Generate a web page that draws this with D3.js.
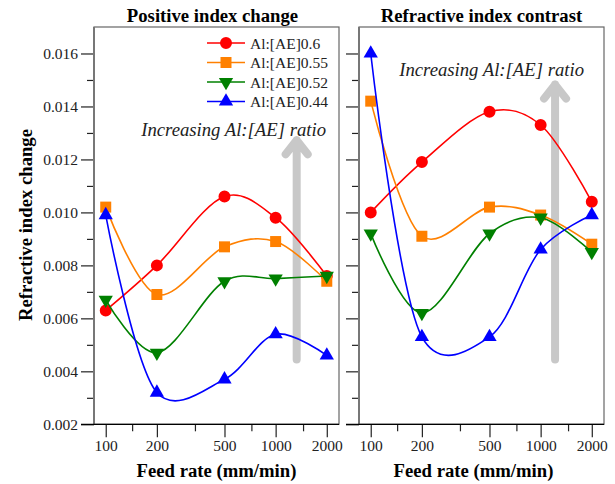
<!DOCTYPE html>
<html>
<head>
<meta charset="utf-8">
<script src="https://cdn.jsdelivr.net/npm/d3@7"></script>
<style>
body { margin: 0; background: #fff; }
</style>
</head>
<body>
<div id="canvas"></div>
<script>
// ----------------------------------------------------------
// DATA -----------------------------------------------------
// ----------------------------------------------------------
var feed_rates = [100, 200, 500, 1000, 2000];
var series_names = ["Al:[AE]0.6", "Al:[AE]0.55", "Al:[AE]0.52", "Al:[AE]0.44"];

// positive index change (left panel)
var positive_06 = [0.0063, 0.0080, 0.0106, 0.0098, 0.0076];
var positive_055 = [0.0102, 0.0069, 0.0087, 0.0089, 0.0074];
var positive_052 = [0.0067, 0.0047, 0.0074, 0.0075, 0.0076];
var positive_044 = [0.0099, 0.0032, 0.0037, 0.0054, 0.0046];

// refractive index contrast (right panel)
var contrast_06 = [0.0100, 0.0119, 0.0138, 0.0133, 0.0104];
var contrast_055 = [0.0142, 0.0091, 0.0102, 0.0099, 0.0088];
var contrast_052 = [0.0092, 0.0062, 0.0092, 0.0098, 0.0085];
var contrast_044 = [0.0160, 0.0053, 0.0053, 0.0086, 0.0099];

var y_major_ticks = [0.002, 0.004, 0.006, 0.008, 0.010, 0.012, 0.014, 0.016];
var y_minor_ticks = [0.003, 0.005, 0.007, 0.009, 0.011, 0.013, 0.015];
var x_major_ticks = [100, 200, 500, 1000, 2000];
var x_minor_ticks = [143, 335, 720, 1450];

// arrow annotations: [x, y_bottom, y_top]
var arrow_left = [1330, 0.00445, 0.0128];
var arrow_right = [1216, 0.00445, 0.0149];

// ----------------------------------------------------------
// STRUCTURE ------------------------------------------------
// ----------------------------------------------------------
var W = 615, H = 484;
var top_y = 27, bottom_y = 424.3;
var serif = "Liberation Serif";
var big_font = "18.7px";
var small_font = "15.5px";
var panels = [
  { left: 94, right: 339, title: "Positive index change", title_dx: -4, label_dx: 0, values: [positive_06, positive_055, positive_052, positive_044], arrow: arrow_left, labels: true, note_x: 326, note_y: 136, legend: true },
  { left: 359, right: 604, title: "Refractive index contrast", title_dx: 0, label_dx: -8, values: [contrast_06, contrast_055, contrast_052, contrast_044], arrow: arrow_right, labels: false, note_x: 584, note_y: 76, legend: false }
];

var colors = ["#ff0000", "#ff8000", "#008000", "#0000ff"];
var symbols = [
  d3.symbol().type(d3.symbolCircle).size(113),
  d3.symbol().type(d3.symbolSquare).size(121),
  d3.symbol().type(d3.symbolTriangle).size(88),
  d3.symbol().type(d3.symbolTriangle).size(88)
];
var rotations = [0, 0, 180, 0];

var svg = d3.select("#canvas").append("svg")
  .attr("width", W)
  .attr("height", H)
  .style("font-family", serif);

var yScale = d3.scaleLinear()
  .domain([0.002, 0.017])
  .range([bottom_y, top_y]);

panels.forEach(function (p) {
  var xScale = d3.scaleLog()
    .domain([85.3, 2360])
    .range([p.left, p.right]);

  var g = svg.append("g").attr("class", "panel");

  // arrow (behind data)
  var ax = xScale(p.arrow[0]);
  var ay0 = yScale(p.arrow[1]);
  var ay1 = yScale(p.arrow[2]);
  g.append("path")
    .attr("d", `M${ax},${ay0} L${ax},${ay1 + 2} M${ax - 11},${ay1 + 16} L${ax},${ay1 + 2} L${ax + 11},${ay1 + 16}`)
    .attr("fill", "none")
    .attr("stroke", "#c8c8c8")
    .attr("stroke-width", 8)
    .attr("stroke-linecap", "round")
    .attr("stroke-linejoin", "round");

  g.append("text")
    .attr("x", p.note_x)
    .attr("y", p.note_y)
    .attr("text-anchor", "end")
    .style("font-family", serif)
    .style("font-style", "italic")
    .style("font-size", big_font)
    .attr("fill", "#222")
    .text("Increasing Al:[AE] ratio");

  // frame
  g.append("rect")
    .attr("x", p.left)
    .attr("y", top_y)
    .attr("width", p.right - p.left)
    .attr("height", bottom_y - top_y)
    .attr("fill", "none")
    .attr("stroke", "#666")
    .attr("stroke-width", 1.2);

  // y axis
  var yAxis = g.append("g")
    .attr("transform", `translate(${p.left},0)`)
    .call(d3.axisLeft(yScale).tickValues(y_major_ticks).tickSize(13).tickPadding(3)
      .tickFormat(p.labels ? d3.format(".3f") : ""));
  yAxis.select(".domain").remove();
  var yMinor = g.append("g")
    .attr("transform", `translate(${p.left},0)`)
    .call(d3.axisLeft(yScale).tickValues(y_minor_ticks).tickSize(7).tickFormat(""));
  yMinor.select(".domain").remove();
  g.append("line")
    .attr("x1", p.left).attr("x2", p.left)
    .attr("y1", top_y).attr("y2", bottom_y)
    .attr("stroke", "#777").attr("stroke-width", 2);

  // x axis
  var xAxis = g.append("g")
    .attr("transform", `translate(0,${bottom_y})`)
    .call(d3.axisBottom(xScale).tickValues(x_major_ticks).tickSize(13).tickPadding(3)
      .tickFormat(d3.format("d")));
  xAxis.select(".domain").remove();
  var xMinor = g.append("g")
    .attr("transform", `translate(0,${bottom_y})`)
    .call(d3.axisBottom(xScale).tickValues(x_minor_ticks).tickSize(7).tickFormat(""));
  xMinor.select(".domain").remove();
  g.append("line")
    .attr("x1", p.left - 13).attr("x2", p.right)
    .attr("y1", bottom_y).attr("y2", bottom_y)
    .attr("stroke", "#000").attr("stroke-width", 1.2);

  g.selectAll(".tick text")
    .style("font-family", serif)
    .style("font-size", small_font)
    .attr("fill", "#222");
  g.selectAll(".tick line").attr("stroke", "#222").attr("stroke-width", 1.2);

  // title + x label
  g.append("text")
    .attr("x", (p.left + p.right) / 2 + p.title_dx)
    .attr("y", 22)
    .attr("text-anchor", "middle")
    .style("font-family", serif)
    .style("font-weight", "bold")
    .style("font-size", big_font)
    .text(p.title);
  g.append("text")
    .attr("x", (p.left + p.right) / 2 + p.label_dx)
    .attr("y", 477)
    .attr("text-anchor", "middle")
    .style("font-family", serif)
    .style("font-weight", "bold")
    .style("font-size", big_font)
    .text("Feed rate (mm/min)");

  // series
  var line = d3.line()
    .x((d, i) => xScale(feed_rates[i]))
    .y((d) => yScale(d))
    .curve(d3.curveCatmullRom.alpha(0.15));

  p.values.forEach(function (vals, s) {
    g.append("path")
      .datum(vals)
      .attr("d", line)
      .attr("fill", "none")
      .attr("stroke", colors[s])
      .attr("stroke-width", 1.6);
    g.selectAll(null)
      .data(vals)
      .enter()
      .append("path")
      .attr("d", symbols[s])
      .attr("transform", (d, i) => `translate(${xScale(feed_rates[i])},${yScale(d)}) rotate(${rotations[s]})`)
      .attr("fill", colors[s]);
  });

  // legend
  if (p.legend) {
    var lg = g.append("g").attr("class", "legend");
    series_names.forEach(function (name, s) {
      var ly = 43 + s * 19.5;
      lg.append("line")
        .attr("x1", 207).attr("x2", 245)
        .attr("y1", ly).attr("y2", ly)
        .attr("stroke", colors[s]).attr("stroke-width", 1.6);
      lg.append("path")
        .attr("d", symbols[s])
        .attr("transform", `translate(226,${ly}) rotate(${rotations[s]})`)
        .attr("fill", colors[s]);
      lg.append("text")
        .attr("x", 250)
        .attr("y", ly + 5.5)
        .style("font-family", serif)
        .style("font-size", small_font)
        .attr("fill", "#222")
        .text(name);
    });
  }
});

// y axis label
svg.append("text")
  .attr("transform", `translate(32,225) rotate(-90)`)
  .attr("text-anchor", "middle")
  .style("font-family", serif)
  .style("font-weight", "bold")
  .style("font-size", big_font)
  .text("Refractive index change");
</script>
</body>
</html>
